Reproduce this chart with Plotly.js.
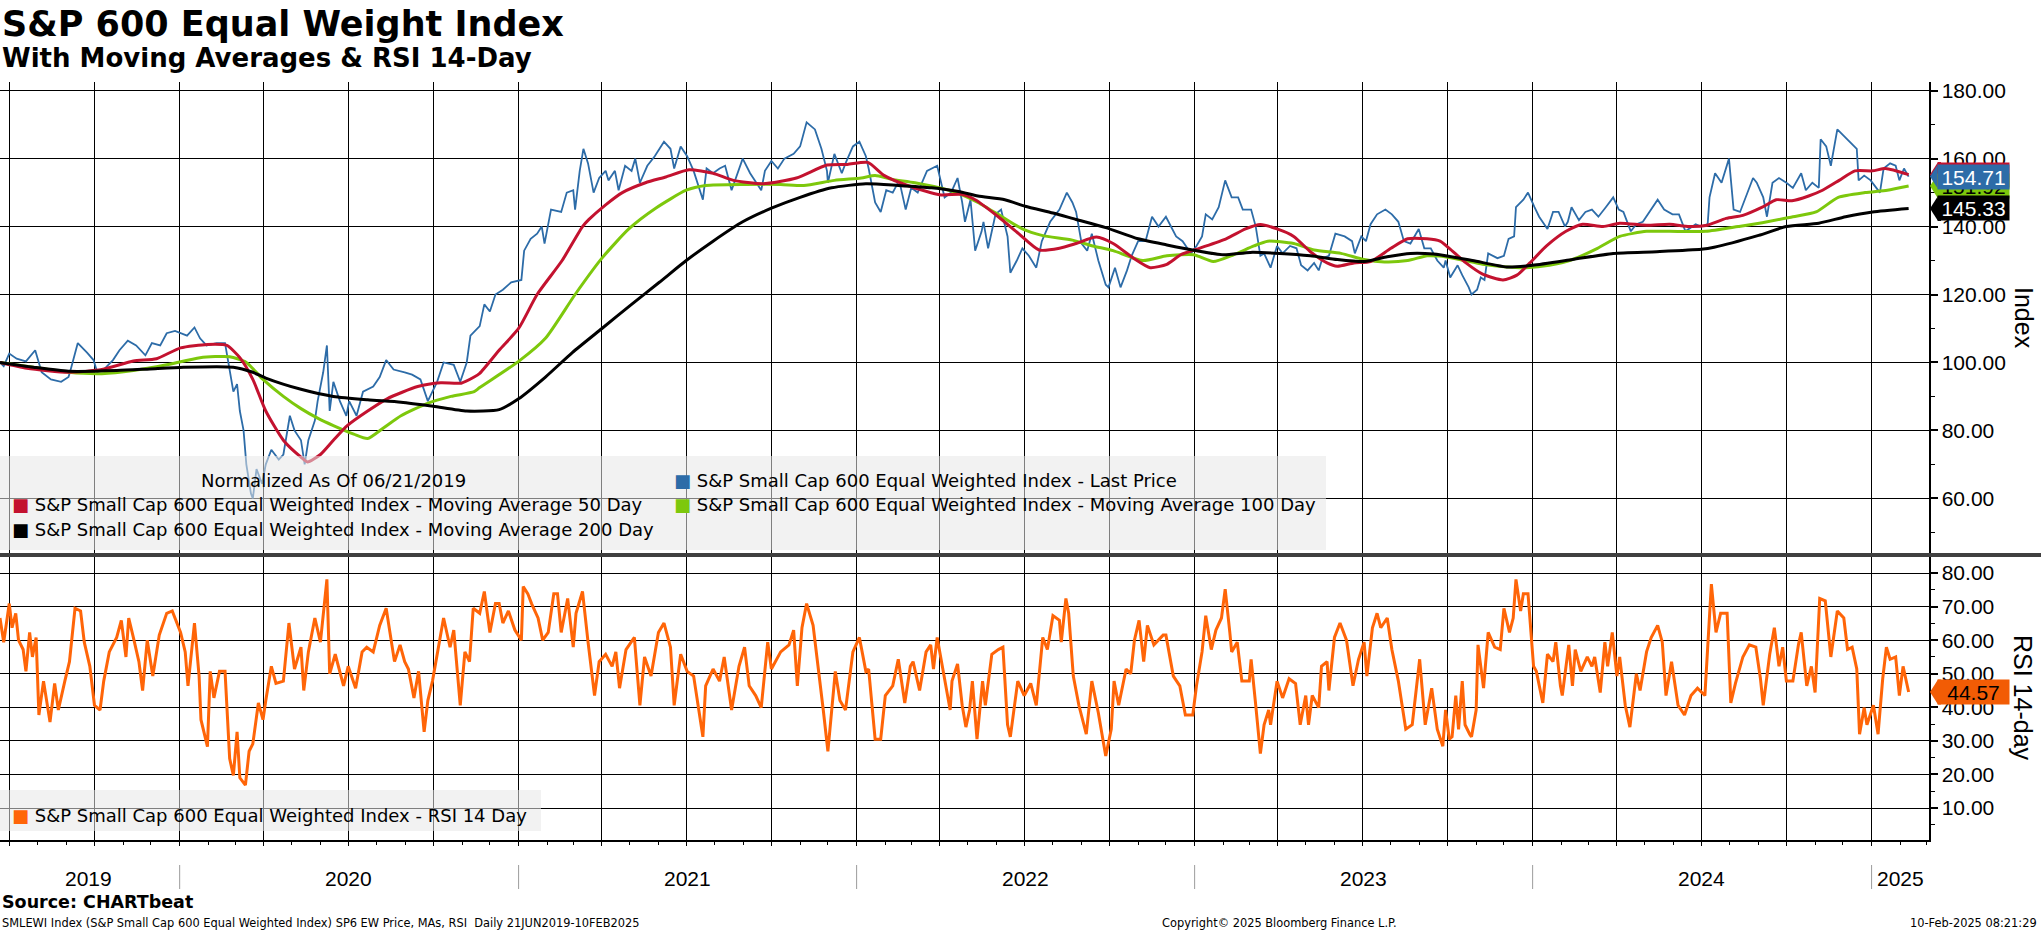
<!DOCTYPE html>
<html>
<head>
<meta charset="utf-8">
<script src="https://cdn.plot.ly/plotly-3.0.1.min.js"></script>
<style>
  html, body { margin: 0; padding: 0; background: #fff; }
  #chart { width: 2041px; height: 932px; }
</style>
</head>
<body>
<div id="chart"></div>
<script>
// ============================================================
// S&P 600 Equal Weight Index — price, moving averages, RSI
// ============================================================

// --- data (normalized 06/21/2019 = 100) ---
const pricePoints = [
  ['2019-06-21',100],['2019-06-25',98.9],['2019-07-01',102.6],['2019-07-09',101.1],['2019-07-19',100.3],
  ['2019-07-29',103.6],['2019-08-05',97.1],['2019-08-15',95],['2019-08-26',94.3],['2019-09-03',95.7],
  ['2019-09-06',98.6],['2019-09-13',105.7],['2019-09-23',102.9],['2019-09-30',100.7],['2019-10-04',97.1],
  ['2019-10-11',97.9],['2019-10-21',100.7],['2019-10-28',103.6],['2019-11-06',106.4],['2019-11-15',105],
  ['2019-11-25',102.1],['2019-12-02',105.7],['2019-12-11',105],['2019-12-18',108.6],['2019-12-27',109.3],
  ['2020-01-09',107.9],['2020-01-17',110.3],['2020-01-23',107.1],['2020-01-30',105],['2020-02-10',105.7],
  ['2020-02-19',105.7],['2020-02-24',97.1],['2020-02-28',91.4],['2020-03-03',93.6],['2020-03-06',85.7],
  ['2020-03-10',80],['2020-03-13',70],['2020-03-18',61.4],['2020-03-20',60],['2020-03-24',68.6],
  ['2020-03-30',64.3],['2020-04-03',70],['2020-04-09',74.3],['2020-04-17',71.4],['2020-04-22',72.9],
  ['2020-04-29',84.3],['2020-05-04',80],['2020-05-11',77.1],['2020-05-15',70],['2020-05-19',77.1],
  ['2020-05-26',82.9],['2020-05-29',88.6],['2020-06-04',97.1],['2020-06-08',105],['2020-06-11',85.7],
  ['2020-06-15',94.3],['2020-06-22',88.6],['2020-06-29',84.3],['2020-07-02',88.6],['2020-07-10',84.3],
  ['2020-07-17',91.4],['2020-07-28',92.9],['2020-08-04',95.7],['2020-08-11',100.7],['2020-08-19',97.9],
  ['2020-08-31',97.1],['2020-09-08',96.4],['2020-09-17',95],['2020-09-25',88.6],['2020-10-05',94.3],
  ['2020-10-12',100],['2020-10-23',99.3],['2020-10-30',94.3],['2020-11-06',100],['2020-11-10',107.9],
  ['2020-11-20',110.7],['2020-11-25',117.1],['2020-12-01',115],['2020-12-07',120],['2020-12-15',121.4],
  ['2020-12-24',123.6],['2021-01-04',124.3],['2021-01-07',132.9],['2021-01-14',136.4],['2021-01-21',137.9],
  ['2021-01-26',140],['2021-01-29',135],['2021-02-05',145],['2021-02-16',144.3],['2021-02-22',150],
  ['2021-03-01',150.7],['2021-03-03',145],['2021-03-08',156.4],['2021-03-12',162.9],['2021-03-17',158.6],
  ['2021-03-23',150],['2021-03-29',154.3],['2021-04-05',156.4],['2021-04-08',153.6],['2021-04-15',156.4],
  ['2021-04-19',150.7],['2021-04-26',157.9],['2021-05-03',156.4],['2021-05-07',160],['2021-05-12',152.9],
  ['2021-05-20',157.9],['2021-05-28',160.7],['2021-06-07',165],['2021-06-14',162.9],['2021-06-18',157.1],
  ['2021-06-25',163.6],['2021-07-02',160.7],['2021-07-09',156.4],['2021-07-19',147.9],['2021-07-23',157.1],
  ['2021-07-30',155.7],['2021-08-06',157.1],['2021-08-12',157.9],['2021-08-19',150.7],['2021-08-31',160],
  ['2021-09-08',155.7],['2021-09-20',150.7],['2021-09-24',156.4],['2021-10-01',159.3],['2021-10-08',157.1],
  ['2021-10-15',160],['2021-10-25',161.4],['2021-11-01',163.6],['2021-11-08',170.7],['2021-11-17',168.6],
  ['2021-11-24',162.9],['2021-11-30',156.4],['2021-12-01',152.9],['2021-12-08',161.4],['2021-12-16',155.7],
  ['2021-12-20',158.6],['2021-12-28',163.6],['2022-01-04',165],['2022-01-11',160.7],['2022-01-14',157.1],
  ['2022-01-21',147.1],['2022-01-27',144.3],['2022-02-02',150.7],['2022-02-09',150],['2022-02-16',153.6],
  ['2022-02-23',145],['2022-03-01',151.4],['2022-03-08',150],['2022-03-18',156.4],['2022-03-29',157.9],
  ['2022-04-06',148.6],['2022-04-13',150],['2022-04-20',154.3],['2022-04-25',147.1],['2022-04-28',141.4],
  ['2022-05-04',147.9],['2022-05-09',132.9],['2022-05-16',138.6],['2022-05-18',141.4],['2022-05-23',133.6],
  ['2022-05-31',143.6],['2022-06-06',145],['2022-06-13',137.1],['2022-06-16',126.4],['2022-06-23',130],
  ['2022-06-29',133.6],['2022-07-06',131.4],['2022-07-14',127.9],['2022-07-20',135.7],['2022-07-29',141.4],
  ['2022-08-08',145],['2022-08-16',150],['2022-08-22',147.1],['2022-08-26',144.3],['2022-09-01',135],
  ['2022-09-07',132.9],['2022-09-12',137.9],['2022-09-19',130],['2022-09-27',122.9],['2022-09-30',122.1],
  ['2022-10-07',127.9],['2022-10-13',122.1],['2022-10-20',127.1],['2022-10-25',131.4],['2022-11-01',135.7],
  ['2022-11-09',135.7],['2022-11-16',142.9],['2022-11-23',140],['2022-12-01',142.9],['2022-12-12',137.1],
  ['2022-12-19',135.7],['2022-12-28',132.1],['2023-01-03',134.3],['2023-01-09',137.1],['2023-01-13',143.6],
  ['2023-01-20',142.1],['2023-01-27',145.7],['2023-02-03',153.6],['2023-02-10',148.6],['2023-02-17',148.6],
  ['2023-02-22',145],['2023-03-03',145],['2023-03-08',140],['2023-03-13',131.4],['2023-03-17',132.1],
  ['2023-03-24',127.9],['2023-03-31',134.3],['2023-04-06',132.1],['2023-04-14',134.3],['2023-04-21',133.6],
  ['2023-04-26',128.6],['2023-05-03',127.1],['2023-05-10',129.3],['2023-05-15',127.1],['2023-05-19',130.7],
  ['2023-05-26',131.4],['2023-06-02',137.9],['2023-06-12',137.1],['2023-06-20',135.7],['2023-06-23',132.1],
  ['2023-06-30',137.1],['2023-07-05',135.7],['2023-07-10',140.7],['2023-07-17',143.6],['2023-07-26',145],
  ['2023-08-02',143.6],['2023-08-09',141.4],['2023-08-15',135.7],['2023-08-22',135],['2023-08-31',139.3],
  ['2023-09-06',133.6],['2023-09-13',133.6],['2023-09-20',130],['2023-09-27',127.9],['2023-09-29',130],
  ['2023-10-04',125],['2023-10-12',128.6],['2023-10-17',125.7],['2023-10-24',122.1],['2023-10-27',120],
  ['2023-11-02',121.4],['2023-11-06',125],['2023-11-10',124.3],['2023-11-14',132.1],['2023-11-24',130.7],
  ['2023-12-01',131.4],['2023-12-06',136.4],['2023-12-12',137.1],['2023-12-14',145.7],['2023-12-22',147.9],
  ['2023-12-27',150],['2024-01-03',145.7],['2024-01-08',142.9],['2024-01-17',139.3],['2024-01-23',144.3],
  ['2024-01-29',144.3],['2024-02-05',140],['2024-02-08',141.4],['2024-02-12',145.7],['2024-02-20',141.9],
  ['2024-02-27',144.3],['2024-03-05',145],['2024-03-12',142.9],['2024-03-20',145.7],['2024-03-28',148.6],
  ['2024-04-03',145],['2024-04-08',144.3],['2024-04-16',138.6],['2024-04-22',140.7],['2024-04-29',141.4],
  ['2024-05-06',144.3],['2024-05-15',147.9],['2024-05-22',145],['2024-05-31',143.6],['2024-06-07',143.6],
  ['2024-06-14',138.6],['2024-06-25',140.7],['2024-07-01',140],['2024-07-08',140.7],['2024-07-10',148.6],
  ['2024-07-16',155.7],['2024-07-23',152.9],['2024-07-31',160],['2024-08-05',145],['2024-08-12',144.3],
  ['2024-08-19',149.3],['2024-08-26',154.3],['2024-08-30',152.9],['2024-09-06',148.6],['2024-09-10',142.9],
  ['2024-09-16',152.9],['2024-09-23',154.3],['2024-10-01',152.9],['2024-10-08',151.4],['2024-10-17',155.7],
  ['2024-10-22',150.7],['2024-10-29',152.9],['2024-11-05',151.4],['2024-11-07',165.7],['2024-11-13',163.6],
  ['2024-11-18',157.9],['2024-11-25',168.6],['2024-12-03',166.4],['2024-12-10',164.3],['2024-12-16',162.9],
  ['2024-12-18',153.6],['2024-12-24',155],['2024-12-31',153.6],['2025-01-10',150],['2025-01-14',157.1],
  ['2025-01-21',158.6],['2025-01-27',157.9],['2025-01-31',153.6],['2025-02-05',157.1],['2025-02-10',154.71]
];

const ma50Points = [
  ['2019-06-21',100],['2019-07-20',98.3],['2019-09-03',97.1],['2019-10-09',97.9],['2019-11-12',100.4],
  ['2019-12-07',101.1],['2020-01-02',104.3],['2020-01-31',105.3],['2020-02-21',105],['2020-03-06',101.4],
  ['2020-03-20',95],['2020-04-03',85.7],['2020-04-22',77.1],['2020-05-11',72.1],['2020-05-18',70.7],
  ['2020-06-01',72.9],['2020-06-15',77.1],['2020-06-30',81.4],['2020-07-22',85.7],['2020-08-12',89.3],
  ['2020-09-14',92.9],['2020-10-09',94],['2020-10-31',93.9],['2020-11-14',95.7],['2020-11-20',96.8],
  ['2020-12-11',103.6],['2021-01-01',110],['2021-01-21',120],['2021-02-17',130],['2021-03-11',140],
  ['2021-03-18',142.1],['2021-04-05',146.4],['2021-04-23',150],['2021-05-18',152.9],['2021-06-09',154.6],
  ['2021-07-04',156.7],['2021-07-30',155.7],['2021-08-21',153.6],['2021-09-22',152.6],['2021-10-28',154.3],
  ['2021-11-30',158.1],['2021-12-22',158.3],['2022-01-13',158.9],['2022-01-31',155],['2022-02-25',152.1],
  ['2022-04-02',149.3],['2022-04-24',149.5],['2022-05-09',147.9],['2022-06-03',142.9],['2022-06-25',137.9],
  ['2022-07-17',133.1],['2022-08-08',133.6],['2022-08-26',135],['2022-09-17',136.9],['2022-10-05',135],
  ['2022-10-27',130.7],['2022-11-14',127.9],['2022-12-02',128.9],['2022-12-17',131.7],['2023-01-06',133.6],
  ['2023-02-04',136.4],['2023-02-25',139.3],['2023-03-13',140.6],['2023-03-31',139.3],['2023-04-18',137.1],
  ['2023-05-06',132.6],['2023-05-24',129.3],['2023-06-04',128.3],['2023-06-22',129.3],['2023-07-10',129.7],
  ['2023-08-01',133.6],['2023-08-19',136.4],['2023-09-09',136.4],['2023-09-23',135.7],['2023-10-03',133.6],
  ['2023-10-21',129.3],['2023-11-08',126],['2023-11-30',124.3],['2023-12-15',125.7],['2023-12-29',129.3],
  ['2024-01-16',134.3],['2024-02-06',138.6],['2024-02-24',140.7],['2024-03-17',140],['2024-04-04',141],
  ['2024-05-03',140.4],['2024-05-28',140.7],['2024-06-18',140],['2024-07-06',140.3],['2024-07-28',142.4],
  ['2024-08-15',143.3],['2024-09-05',145.7],['2024-09-20',147.9],['2024-10-07',147.6],['2024-10-25',149],
  ['2024-11-09',150.7],['2024-11-27',153.6],['2024-12-14',156.4],['2025-01-02',156.4],['2025-01-16',157.1],
  ['2025-02-10',155.3]
];

const ma100Points = [
  ['2019-06-21',100],['2019-07-27',98.6],['2019-09-03',97.1],['2019-10-09',96.7],['2019-11-12',97.6],
  ['2019-12-18',99.3],['2020-01-23',101.4],['2020-02-24',101.7],['2020-03-13',100],['2020-03-31',95],
  ['2020-04-22',90],['2020-05-11',86.4],['2020-05-29',83.6],['2020-06-15',81.4],['2020-07-07',78.9],
  ['2020-07-22',77.6],['2020-08-08',80.7],['2020-08-27',84.3],['2020-09-24',87.9],['2020-10-20',90],
  ['2020-11-14',91.4],['2020-11-20',92.6],['2021-01-01',100.3],['2021-01-30',107.1],['2021-03-03',120],
  ['2021-04-01',130.7],['2021-04-30',139.3],['2021-05-29',145.4],['2021-07-01',150.7],['2021-07-22',152.1],
  ['2021-09-04',152.4],['2021-10-11',152.4],['2021-11-05',152.1],['2021-12-08',153.6],['2022-01-06',154.3],
  ['2022-01-21',155],['2022-02-08',153.9],['2022-03-05',152.9],['2022-04-11',150.7],['2022-04-21',149.8],
  ['2022-05-12',147.1],['2022-06-07',142.9],['2022-06-29',139.3],['2022-07-20',137.4],['2022-08-22',136],
  ['2022-09-13',134.3],['2022-10-05',132.9],['2022-11-06',130],['2022-12-02',131.4],['2022-12-31',131.7],
  ['2023-01-21',129.7],['2023-02-12',131.7],['2023-03-06',134.3],['2023-03-21',135.7],['2023-04-18',135],
  ['2023-05-10',133.1],['2023-06-08',132.1],['2023-07-03',130.3],['2023-07-25',129.6],['2023-08-19',130],
  ['2023-09-09',131.4],['2023-09-22',131.3],['2023-10-14',130.3],['2023-11-08',128.9],['2023-12-04',128.1],
  ['2023-12-25',127.9],['2024-01-19',128.6],['2024-02-13',130.3],['2024-03-11',133.6],['2024-04-04',137.1],
  ['2024-05-03',138.6],['2024-05-28',138.6],['2024-07-06',138.6],['2024-08-10',140],['2024-09-05',141.1],
  ['2024-10-08',142.9],['2024-11-02',144.3],['2024-11-26',148.6],['2024-12-25',150],['2025-01-18',150.7],
  ['2025-02-10',151.92]
];

const ma200Points = [
  ['2019-06-21',100],['2019-07-27',98.6],['2019-09-03',97.4],['2019-10-25',97.6],['2019-11-30',98.1],
  ['2020-01-05',98.6],['2020-02-28',98.6],['2020-03-20',97.1],['2020-04-03',95.4],['2020-05-11',92.1],
  ['2020-06-15',90],['2020-07-22',89],['2020-08-27',88.3],['2020-10-01',87.1],['2020-11-06',85.7],
  ['2020-12-11',86.1],['2021-01-01',89.3],['2021-01-30',95.7],['2021-02-28',102.9],['2021-04-01',110],
  ['2021-05-03',117.1],['2021-06-02',123.6],['2021-07-01',130],['2021-07-30',135.7],['2021-08-31',141.4],
  ['2021-10-01',145.4],['2021-11-01',148.6],['2021-12-05',151.4],['2022-01-11',152.6],['2022-02-15',152.1],
  ['2022-03-23',151.4],['2022-04-21',150.3],['2022-05-12',149],['2022-06-10',147.9],['2022-07-02',146],
  ['2022-08-01',144],['2022-08-26',142.1],['2022-09-27',139.7],['2022-11-01',136.4],['2022-12-02',134.6],
  ['2023-01-03',132.9],['2023-02-01',131.7],['2023-03-02',132.4],['2023-04-03',132.1],['2023-05-06',131.4],
  ['2023-06-04',130.3],['2023-07-03',129.7],['2023-07-28',131.1],['2023-08-22',132.1],['2023-09-16',131.9],
  ['2023-10-28',130],['2023-12-04',128.1],['2024-01-01',128.6],['2024-02-13',130.3],['2024-03-28',132.1],
  ['2024-05-14',132.6],['2024-07-01',133.3],['2024-07-15',133.9],['2024-09-01',137.4],['2024-10-01',140],
  ['2024-11-05',141],['2024-12-04',142.9],['2025-01-02',144.3],['2025-02-10',145.33]
];

const rsiPoints = [
  ['2019-06-21',66.6],['2019-06-25',59.4],['2019-07-01',70.9],['2019-07-04',63.7],['2019-07-08',68],
  ['2019-07-11',60],['2019-07-16',57.2],['2019-07-19',50.7],['2019-07-23',62.3],['2019-07-26',55],
  ['2019-07-30',60.8],['2019-08-02',37.7],['2019-08-07',47.8],['2019-08-14',35.6],['2019-08-19',47.1],
  ['2019-08-23',39.2],['2019-08-30',47.8],['2019-09-04',53.6],['2019-09-10',69.5],['2019-09-16',68.7],
  ['2019-09-20',59.4],['2019-09-26',52.2],['2019-10-01',40.6],['2019-10-07',39.2],['2019-10-11',47.8],
  ['2019-10-17',56.5],['2019-10-25',60.8],['2019-10-30',65.9],['2019-11-04',55],['2019-11-07',66.6],
  ['2019-11-12',60.8],['2019-11-18',53.6],['2019-11-22',45],['2019-11-27',60],['2019-12-03',49.3],
  ['2019-12-10',61.5],['2019-12-18',68],['2019-12-24',68.7],['2020-01-02',62.3],['2020-01-07',56.5],
  ['2020-01-10',46.4],['2020-01-17',65.1],['2020-01-22',49.3],['2020-01-24',36.3],['2020-01-31',28.3],
  ['2020-02-03',50.7],['2020-02-07',42.8],['2020-02-13',50.7],['2020-02-19',50.7],['2020-02-24',24.7],
  ['2020-02-28',19.7],['2020-03-03',32.7],['2020-03-06',19],['2020-03-12',16.8],['2020-03-16',26.9],
  ['2020-03-20',29.1],['2020-03-26',41.3],['2020-03-31',36.3],['2020-04-03',42],['2020-04-09',52.2],
  ['2020-04-14',47.1],['2020-04-22',47.8],['2020-04-28',65.1],['2020-05-04',51.4],['2020-05-11',57.9],
  ['2020-05-14',45],['2020-05-19',56.5],['2020-05-26',66.6],['2020-06-01',59.4],['2020-06-08',78.1],
  ['2020-06-11',50],['2020-06-17',55.8],['2020-06-26',46.4],['2020-07-01',52.2],['2020-07-09',45.7],
  ['2020-07-16',56.5],['2020-07-21',57.9],['2020-07-28',56.5],['2020-08-04',64.4],['2020-08-11',69.5],
  ['2020-08-20',53.6],['2020-08-26',58.6],['2020-08-31',53.6],['2020-09-04',51.4],['2020-09-10',42.8],
  ['2020-09-15',50.7],['2020-09-21',32.7],['2020-09-25',42],['2020-09-30',47.8],['2020-10-12',66.6],
  ['2020-10-19',57.9],['2020-10-23',63],['2020-10-30',40.6],['2020-11-04',56.5],['2020-11-09',53.6],
  ['2020-11-13',69.5],['2020-11-20',68],['2020-11-25',74.5],['2020-12-01',62.3],['2020-12-07',70.9],
  ['2020-12-11',70.9],['2020-12-15',65.1],['2020-12-21',68.7],['2020-12-28',63],['2021-01-04',60],
  ['2021-01-06',76],['2021-01-11',73.8],['2021-01-15',70.9],['2021-01-22',66.6],['2021-01-27',60],
  ['2021-02-02',62.3],['2021-02-08',73.8],['2021-02-12',73.8],['2021-02-16',62.3],['2021-02-23',72.4],
  ['2021-03-01',57.9],['2021-03-04',68],['2021-03-11',74.5],['2021-03-17',59.4],['2021-03-24',43.5],
  ['2021-03-29',53.6],['2021-04-05',55.8],['2021-04-12',52.2],['2021-04-16',56.5],['2021-04-20',45.7],
  ['2021-04-27',57.2],['2021-05-06',60.8],['2021-05-12',40.6],['2021-05-17',55],['2021-05-24',49.3],
  ['2021-06-01',62.3],['2021-06-07',65.1],['2021-06-14',57.9],['2021-06-18',40.6],['2021-06-25',55.8],
  ['2021-07-02',50.7],['2021-07-09',49.3],['2021-07-19',31.2],['2021-07-22',46.4],['2021-07-30',51.4],
  ['2021-08-06',47.8],['2021-08-11',55],['2021-08-19',39.2],['2021-08-27',52.2],['2021-09-02',57.9],
  ['2021-09-07',46.4],['2021-09-14',43.5],['2021-09-20',39.9],['2021-09-27',59.4],['2021-10-01',51.4],
  ['2021-10-11',56.5],['2021-10-20',58.6],['2021-10-25',63],['2021-10-29',46.4],['2021-11-03',63.7],
  ['2021-11-08',70.9],['2021-11-15',64.4],['2021-11-22',49.3],['2021-11-26',39.2],['2021-12-01',26.9],
  ['2021-12-09',50.7],['2021-12-14',42],['2021-12-20',39.2],['2021-12-28',56.5],['2022-01-04',60.8],
  ['2022-01-11',50.7],['2022-01-14',51.4],['2022-01-21',30.5],['2022-01-27',30.5],['2022-02-01',43.5],
  ['2022-02-09',46.4],['2022-02-15',54.3],['2022-02-22',41.3],['2022-02-28',52.2],['2022-03-03',53.6],
  ['2022-03-10',45],['2022-03-17',56.5],['2022-03-22',58.6],['2022-03-25',51.4],['2022-03-29',60.8],
  ['2022-04-07',46.4],['2022-04-12',39.2],['2022-04-14',47.8],['2022-04-20',52.9],['2022-04-25',40.6],
  ['2022-04-29',34.1],['2022-05-03',39.2],['2022-05-06',47.8],['2022-05-11',30.5],['2022-05-17',47.8],
  ['2022-05-20',40.6],['2022-05-27',55.8],['2022-06-03',57.2],['2022-06-08',57.9],['2022-06-13',34.8],
  ['2022-06-16',31.2],['2022-06-24',47.8],['2022-07-01',43.5],['2022-07-08',47.1],['2022-07-14',40.6],
  ['2022-07-21',60.8],['2022-07-26',57.2],['2022-08-01',67.3],['2022-08-08',65.9],['2022-08-10',59.4],
  ['2022-08-15',72.4],['2022-08-18',68],['2022-08-23',49.3],['2022-08-29',40.6],['2022-09-06',32],
  ['2022-09-12',47.8],['2022-09-19',38.4],['2022-09-27',25.5],['2022-10-03',33.5],['2022-10-06',47.8],
  ['2022-10-11',40.6],['2022-10-19',51.4],['2022-10-24',50],['2022-10-28',60],['2022-11-02',65.9],
  ['2022-11-07',53.6],['2022-11-11',64.4],['2022-11-18',58.6],['2022-11-28',61.5],['2022-12-01',61.5],
  ['2022-12-09',49.3],['2022-12-16',46.4],['2022-12-22',37.7],['2022-12-30',37.7],['2023-01-03',46.4],
  ['2023-01-09',56.5],['2023-01-13',67.3],['2023-01-19',57.2],['2023-01-24',63],['2023-01-30',66.6],
  ['2023-02-03',75.2],['2023-02-08',62.3],['2023-02-10',56.5],['2023-02-16',59.4],['2023-02-21',47.8],
  ['2023-03-01',47.8],['2023-03-03',54.3],['2023-03-08',40.6],['2023-03-13',26.2],['2023-03-17',34.8],
  ['2023-03-22',39.2],['2023-03-24',34.8],['2023-03-31',47.8],['2023-04-06',42.8],['2023-04-13',48.5],
  ['2023-04-20',47.1],['2023-04-25',34.8],['2023-05-01',43.5],['2023-05-04',34.8],['2023-05-08',43.5],
  ['2023-05-15',39.9],['2023-05-18',52.2],['2023-05-24',53.6],['2023-05-26',45],['2023-06-01',60.8],
  ['2023-06-07',65.1],['2023-06-14',60],['2023-06-21',46.4],['2023-06-27',54.3],['2023-07-03',59.4],
  ['2023-07-06',49.3],['2023-07-12',63.7],['2023-07-17',68],['2023-07-21',63.7],['2023-07-28',66.6],
  ['2023-08-02',57.2],['2023-08-09',47.8],['2023-08-17',33.5],['2023-08-24',34.8],['2023-09-01',54.3],
  ['2023-09-07',34.8],['2023-09-14',45.7],['2023-09-20',33.5],['2023-09-26',28.4],['2023-09-29',39.2],
  ['2023-10-03',30.5],['2023-10-06',31.2],['2023-10-10',43.5],['2023-10-13',33.4],['2023-10-17',47.8],
  ['2023-10-20',34.8],['2023-10-25',32],['2023-10-27',31.2],['2023-11-01',39.2],['2023-11-03',58.6],
  ['2023-11-09',45.7],['2023-11-14',62.3],['2023-11-21',57.9],['2023-11-27',57.2],['2023-12-01',69.5],
  ['2023-12-07',62.3],['2023-12-11',66.6],['2023-12-14',78.1],['2023-12-19',68.7],['2023-12-22',73.8],
  ['2023-12-27',73.8],['2024-01-02',52.2],['2024-01-05',50.7],['2024-01-12',41.3],['2024-01-17',55.8],
  ['2024-01-23',53.6],['2024-01-26',59.4],['2024-01-31',46.4],['2024-02-02',43.5],['2024-02-09',58.6],
  ['2024-02-13',46.4],['2024-02-16',57.2],['2024-02-22',50.7],['2024-02-29',55],['2024-03-05',52.2],
  ['2024-03-08',55],['2024-03-14',44.4],['2024-03-19',59.4],['2024-03-22',52.2],['2024-03-27',62.3],
  ['2024-04-01',49.3],['2024-04-04',55],['2024-04-10',40.6],['2024-04-15',34.1],['2024-04-22',50],
  ['2024-04-26',45],['2024-05-03',56.5],['2024-05-08',60.8],['2024-05-15',64.4],['2024-05-20',59.4],
  ['2024-05-24',43.5],['2024-05-30',53.6],['2024-06-06',40.6],['2024-06-13',37.7],['2024-06-20',43.5],
  ['2024-06-27',45.7],['2024-07-05',43.5],['2024-07-09',60.8],['2024-07-12',76.7],['2024-07-17',62.3],
  ['2024-07-22',68],['2024-07-29',68],['2024-08-02',41.3],['2024-08-07',47.1],['2024-08-15',55],
  ['2024-08-22',58.6],['2024-08-29',57.9],['2024-09-03',48.5],['2024-09-06',40.6],['2024-09-13',55.8],
  ['2024-09-18',63.7],['2024-09-23',52.2],['2024-09-27',57.9],['2024-10-01',47.8],['2024-10-08',47.8],
  ['2024-10-14',58.6],['2024-10-17',62.3],['2024-10-23',46.4],['2024-10-28',52.2],['2024-11-01',44.4],
  ['2024-11-06',72.4],['2024-11-12',71.7],['2024-11-18',55],['2024-11-25',68.7],['2024-12-02',66.6],
  ['2024-12-06',57.2],['2024-12-11',57.9],['2024-12-16',51.4],['2024-12-19',32],['2024-12-24',39.9],
  ['2024-12-27',34.8],['2025-01-03',40.6],['2025-01-08',32],['2025-01-13',48.5],['2025-01-17',57.9],
  ['2025-01-21',54.3],['2025-01-27',55],['2025-01-31',43.5],['2025-02-04',52.2],['2025-02-10',44.57]
];

const yearLabels = ['2019', '2020', '2021', '2022', '2023', '2024', '2025'];
const yearCenters = ['2019-09-25', '2020-07-01', '2021-07-02', '2022-07-02', '2023-07-02', '2024-07-01', '2025-02-01'];
const yearStarts = ['2020-01-01', '2021-01-01', '2022-01-01', '2023-01-01', '2024-01-01', '2025-01-01'];

const SERIES_NAMES = {
  price: 'S&P Small Cap 600 Equal Weighted Index - Last Price',
  ma50: 'S&P Small Cap 600 Equal Weighted Index - Moving Average 50 Day',
  ma100: 'S&P Small Cap 600 Equal Weighted Index - Moving Average 100 Day',
  ma200: 'S&P Small Cap 600 Equal Weighted Index - Moving Average 200 Day',
  rsi: 'S&P Small Cap 600 Equal Weighted Index - RSI 14 Day'
};

// --- styling ---
const COLORS = {
  price: '#2d6ca8',
  ma50: '#c3122f',
  ma100: '#7dc80c',
  ma200: '#000000',
  rsi: '#ff6508',
  rsiTag: '#f25c05',
  grid: '#000000',
  legendBox: 'rgba(231,231,231,0.55)',
  separator: '#404040',
  yearRule: '#9c9c9c'
};
const AXIS_FONT = 'Liberation Sans, Arial, sans-serif';
const TEXT_FONT = 'DejaVu Sans, Verdana, sans-serif';

const W = 2041, H = 932;
const M = { l: 0, r: 112, t: 82, b: 92 };
const plotW = W - M.l - M.r;
const plotH = H - M.t - M.b;

// pixel row (from page top) -> paper y, pixel column -> paper x
const py = p => (H - M.b - p) / plotH;
const px = p => (p - M.l) / plotW;

const xs = pts => pts.map(p => p[0]);
const ys = pts => pts.map(p => p[1]);
const last = pts => pts[pts.length - 1][1];

function lineTrace(pts, color, width, yaxis, spline) {
  return {
    x: xs(pts), y: ys(pts),
    xaxis: 'x', yaxis: yaxis,
    mode: 'lines',
    line: { color: color, width: width, shape: spline ? 'spline' : 'linear', smoothing: 0.6 },
    hoverinfo: 'skip', showlegend: false
  };
}

const traces = [
  lineTrace(pricePoints, COLORS.price, 1.8, 'y', false),
  lineTrace(ma100Points, COLORS.ma100, 3, 'y', true),
  lineTrace(ma50Points, COLORS.ma50, 3, 'y', true),
  lineTrace(ma200Points, COLORS.ma200, 3, 'y', true),
  lineTrace(rsiPoints, COLORS.rsi, 3, 'y2', false)
];

const shapes = [];
const annotations = [];

// legend panels (semi-transparent, drawn above the lines)
shapes.push({
  type: 'rect', xref: 'paper', yref: 'paper', layer: 'above',
  x0: px(0), x1: px(1326), y0: py(550), y1: py(456),
  fillcolor: COLORS.legendBox, line: { width: 0 }
});
shapes.push({
  type: 'rect', xref: 'paper', yref: 'paper', layer: 'above',
  x0: px(0), x1: px(541), y0: py(831), y1: py(790),
  fillcolor: COLORS.legendBox, line: { width: 0 }
});

// thick rule between the two panels
shapes.push({
  type: 'line', xref: 'paper', yref: 'paper', layer: 'above',
  x0: 0, x1: px(W), y0: py(555), y1: py(555),
  line: { color: COLORS.separator, width: 4 }
});

// year dividers in the label band
yearStarts.forEach(d => {
  shapes.push({
    type: 'line', xref: 'x', yref: 'paper',
    x0: d, x1: d, y0: py(865), y1: py(889),
    line: { color: COLORS.yearRule, width: 1 }
  });
});

function legendItem(text, color, x, y) {
  annotations.push({
    xref: 'paper', yref: 'paper', x: px(x), y: py(y),
    xanchor: 'left', yanchor: 'middle', showarrow: false,
    text: (color ? '<span style="color:' + color + '">\u25A0</span> ' : '') + text,
    font: { family: TEXT_FONT, size: 18, color: '#000' }
  });
}
annotations.push({
  xref: 'paper', yref: 'paper', x: px(333), y: py(481),
  xanchor: 'center', yanchor: 'middle', showarrow: false,
  text: 'Normalized As Of 06/21/2019',
  font: { family: TEXT_FONT, size: 18, color: '#000' }
});
legendItem(SERIES_NAMES.price, COLORS.price, 672, 481);
legendItem(SERIES_NAMES.ma50, COLORS.ma50, 10, 505);
legendItem(SERIES_NAMES.ma100, COLORS.ma100, 672, 505);
legendItem(SERIES_NAMES.ma200, COLORS.ma200, 10, 529);
legendItem(SERIES_NAMES.rsi, COLORS.rsi, 10, 815);

// last-value tags on the right axis
function valueTag(value, yref, fill, textColor) {
  shapes.push({
    type: 'path', xref: 'paper', yref: yref, layer: 'above',
    xsizemode: 'pixel', ysizemode: 'pixel', xanchor: 1, yanchor: value,
    path: 'M 1 0 L 9 12.5 L 12 12.5 L 12 -12.5 L 9 -12.5 Z',
    fillcolor: fill, line: { width: 0 }
  });
  annotations.push({
    xref: 'paper', yref: yref, x: 1, y: value, xshift: 8,
    xanchor: 'left', yanchor: 'middle', showarrow: false,
    width: 71, height: 24, align: 'center', borderpad: 0,
    bgcolor: fill, text: value.toFixed(2),
    font: { family: AXIS_FONT, size: 21, color: textColor }
  });
}
valueTag(last(ma50Points), 'y', COLORS.ma50, '#fff');
valueTag(last(ma100Points), 'y', COLORS.ma100, '#000');
valueTag(last(ma200Points), 'y', COLORS.ma200, '#fff');
valueTag(last(pricePoints), 'y', COLORS.price, '#fff');
valueTag(last(rsiPoints), 'y2', COLORS.rsiTag, '#000');

// axis titles (read top to bottom)
annotations.push({
  xref: 'paper', yref: 'paper', x: px(2024), y: py(318), textangle: 90,
  xanchor: 'center', yanchor: 'middle', showarrow: false, text: 'Index',
  font: { family: AXIS_FONT, size: 25, color: '#000' }
});
annotations.push({
  xref: 'paper', yref: 'paper', x: px(2023), y: py(698), textangle: 90,
  xanchor: 'center', yanchor: 'middle', showarrow: false, text: 'RSI 14-day',
  font: { family: AXIS_FONT, size: 25, color: '#000' }
});

// year labels
yearLabels.forEach((label, i) => {
  annotations.push({
    xref: 'x', yref: 'paper', x: yearCenters[i], y: py(878),
    xanchor: 'center', yanchor: 'middle', showarrow: false, text: label,
    font: { family: AXIS_FONT, size: 21, color: '#000' }
  });
});

// titles and footer
annotations.push({
  xref: 'paper', yref: 'paper', x: 0, y: py(24), xanchor: 'left', yanchor: 'middle',
  showarrow: false, text: 'S&P 600 Equal Weight Index',
  font: { family: TEXT_FONT, size: 35, color: '#000', weight: 'bold' }
});
annotations.push({
  xref: 'paper', yref: 'paper', x: 0, y: py(58), xanchor: 'left', yanchor: 'middle',
  showarrow: false, text: 'With Moving Averages & RSI 14-Day',
  font: { family: TEXT_FONT, size: 26, color: '#000', weight: 'bold' }
});
annotations.push({
  xref: 'paper', yref: 'paper', x: 0, y: py(902), xanchor: 'left', yanchor: 'middle',
  showarrow: false, text: 'Source: CHARTbeat',
  font: { family: TEXT_FONT, size: 17.5, color: '#000', weight: 'bold' }
});
annotations.push({
  xref: 'paper', yref: 'paper', x: 0, y: py(923), xanchor: 'left', yanchor: 'middle',
  showarrow: false,
  text: 'SMLEWI Index (S&P Small Cap 600 Equal Weighted Index) SP6 EW Price, MAs, RSI&nbsp;&nbsp;Daily 21JUN2019-10FEB2025',
  font: { family: TEXT_FONT, size: 11.4, color: '#000' }
});
annotations.push({
  xref: 'paper', yref: 'paper', x: px(1160), y: py(923), xanchor: 'left', yanchor: 'middle',
  showarrow: false, text: 'Copyright\u00A9 2025 Bloomberg Finance L.P.',
  font: { family: TEXT_FONT, size: 11.4, color: '#000' }
});
annotations.push({
  xref: 'paper', yref: 'paper', x: px(2039), y: py(923), xanchor: 'right', yanchor: 'middle',
  showarrow: false, text: '10-Feb-2025 08:21:29',
  font: { family: TEXT_FONT, size: 11.4, color: '#000' }
});

function valueAxis(domain, range, dtick, minorDtick) {
  return {
    domain: domain, range: range, anchor: 'x', side: 'right',
    tick0: 0, dtick: dtick, tickformat: '.2f',
    showgrid: true, gridcolor: COLORS.grid, gridwidth: 1, zeroline: false,
    ticks: 'outside', ticklen: 7, tickwidth: 2, tickcolor: '#000',
    minor: { dtick: minorDtick, tick0: 0, ticks: 'outside', ticklen: 4, tickwidth: 1, tickcolor: '#000', showgrid: false },
    showline: true, linecolor: '#000', linewidth: 1.5,
    tickfont: { family: AXIS_FONT, size: 21, color: '#000' },
    fixedrange: true
  };
}

const layout = {
  width: W, height: H,
  margin: M,
  paper_bgcolor: '#fff', plot_bgcolor: '#fff',
  showlegend: false,
  xaxis: {
    type: 'date', range: ['2019-06-21', '2025-03-04'], anchor: 'y2',
    tick0: '2019-07-01', dtick: 'M3',
    showgrid: true, gridcolor: COLORS.grid, gridwidth: 1, zeroline: false,
    ticks: 'outside', ticklen: 4, tickwidth: 1, tickcolor: '#000',
    minor: { tick0: '2019-07-01', dtick: 'M1', ticks: 'outside', ticklen: 3, tickcolor: '#000', showgrid: false },
    showticklabels: false,
    showline: true, linecolor: '#000', linewidth: 2,
    fixedrange: true
  },
  yaxis: valueAxis([py(553), 1], [43.9, 182.56], 20, 10),
  yaxis2: valueAxis([0, py(557)], [0.47, 84.77], 10, 5),
  shapes: shapes,
  annotations: annotations
};

Plotly.newPlot('chart', traces, layout, { displayModeBar: false, staticPlot: true });
</script>
</body>
</html>
